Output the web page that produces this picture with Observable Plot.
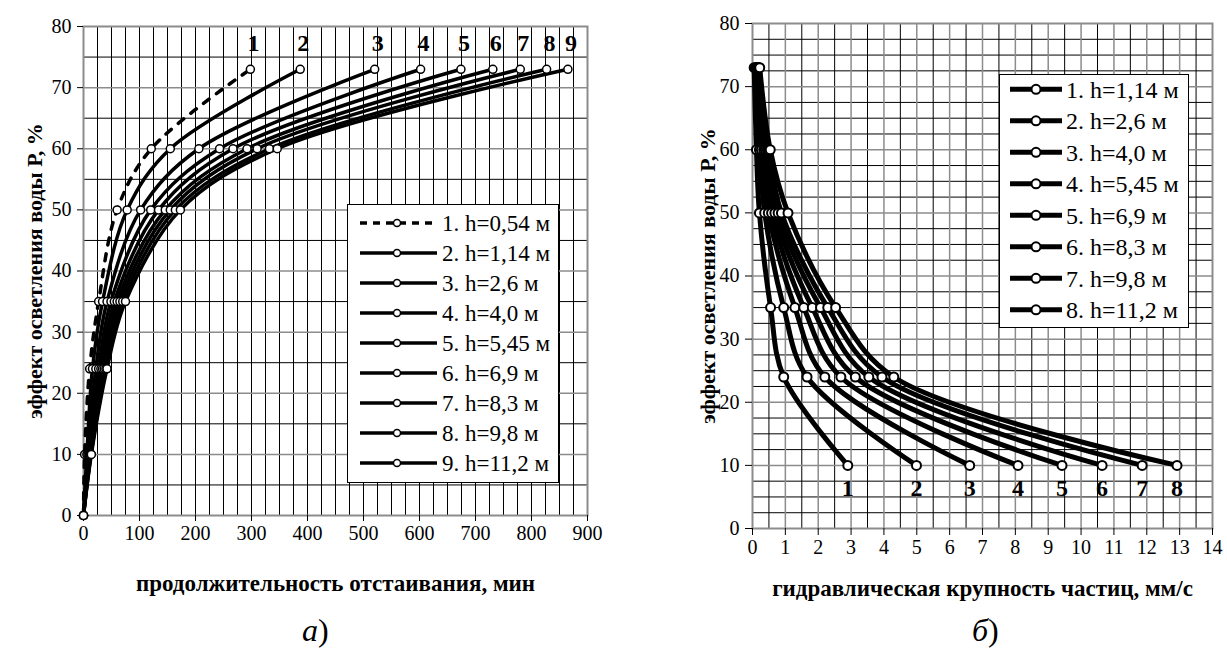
<!DOCTYPE html>
<html><head><meta charset="utf-8">
<script src="https://cdn.jsdelivr.net/npm/d3@7"></script>
<script src="https://cdn.jsdelivr.net/npm/@observablehq/plot@0.6"></script>
<style>
body{margin:0;background:#fff;}
#wrap{position:relative;width:1227px;height:663px;overflow:hidden;font-family:"Liberation Serif","Times New Roman",serif;}
.chart{position:absolute;top:0;}
.legend{position:absolute;background:#fff;border:1px solid #000;box-sizing:border-box;}
.cap{position:absolute;font-size:32px;font-family:"Liberation Serif",serif;line-height:1;}
</style></head><body><div id="wrap"></div>
<script>
// ---------- chart a) ----------
const levelsA = [0, 10, 24, 35, 50, 60, 73];
const seriesA = ["1. h=0,54 м","2. h=1,14 м","3. h=2,6 м","4. h=4,0 м","5. h=5,45 м","6. h=6,9 м","7. h=8,3 м","8. h=9,8 м","9. h=11,2 м"];
const labelsA = ["1","2","3","4","5","6","7","8","9"];
const timeA = [
  [0, 2, 11, 27, 60, 121, 298],
  [0, 6, 16, 34, 78, 155, 387],
  [0, 8, 22, 42, 102, 206, 520],
  [0, 10, 27, 49, 120, 243, 602],
  [0, 11, 31, 55, 134, 267, 674],
  [0, 12, 34, 60, 146, 292, 731],
  [0, 13, 37, 65, 155, 310, 780],
  [0, 13.5, 40, 70, 164, 332, 827],
  [0, 14, 42, 75, 173, 346, 865]
];
const xTicksA = [0,100,200,300,400,500,600,700,800,900];
const yTicks = [0,10,20,30,40,50,60,70,80];
const xTitleA = "продолжительность отстаивания, мин";
const yTitle = "эффект осветления воды Р, %";

// ---------- chart б) ----------
const levelsB = [73, 60, 50, 35, 24, 10];
const seriesB = ["1. h=1,14 м","2. h=2,6 м","3. h=4,0 м","4. h=5,45 м","5. h=6,9 м","6. h=8,3 м","7. h=9,8 м","8. h=11,2 м"];
const labelsB = ["1","2","3","4","5","6","7","8"];
const speedB = [
  [0.05, 0.12, 0.21, 0.55, 0.95, 2.90],
  [0.08, 0.21, 0.37, 0.95, 1.66, 4.99],
  [0.11, 0.27, 0.48, 1.29, 2.20, 6.61],
  [0.135, 0.34, 0.58, 1.56, 2.69, 8.08],
  [0.16, 0.39, 0.68, 1.82, 3.13, 9.42],
  [0.18, 0.45, 0.78, 2.07, 3.54, 10.64],
  [0.20, 0.49, 0.88, 2.29, 3.94, 11.86],
  [0.22, 0.54, 1.08, 2.53, 4.30, 12.92]
];
const xTicksB = [0,1,2,3,4,5,6,7,8,9,10,11,12,13,14];
const xTitleB = "гидравлическая крупность частиц, мм/с";
const captions = ["а", "б"];

const FONT = "Liberation Serif";
const wrap = document.getElementById("wrap");
const baseStyle = {fontFamily: FONT, fontSize: "20px", background: "transparent", overflow: "visible", color: "#000"};

const dataA = seriesA.flatMap((s, i) => levelsA.map((y, j) => ({s, i, x: timeA[i][j], y})));
const endA = seriesA.map((s, i) => ({label: labelsA[i], x: timeA[i][levelsA.length - 1], y: levelsA[levelsA.length - 1]}));

const chartA = Plot.plot({
  width: 620, height: 600,
  marginLeft: 83, marginRight: 33, marginTop: 26, marginBottom: 85,
  x: {domain: [0, 900], label: null},
  y: {domain: [0, 80], label: null},
  style: baseStyle,
  marks: [
    Plot.ruleX(d3.range(25, 900, 25), {stroke: "#000", strokeWidth: 1}),
    Plot.ruleY(d3.range(5, 80, 10), {stroke: "#000", strokeWidth: 1}),
    Plot.ruleY(d3.range(10, 80, 10), {stroke: "#8c8c8c", strokeWidth: 1.5}),
    Plot.frame({stroke: "#8c8c8c", strokeWidth: 2}),
    Plot.axisX(xTicksA, {tickSize: 6, tickPadding: 4, fontSize: 20, label: null}),
    Plot.axisY(yTicks, {tickSize: 6, tickPadding: 6, fontSize: 20, label: null}),
    Plot.line(dataA, {filter: d => d.i > 0, x: "x", y: "y", z: "s", curve: "catmull-rom", stroke: "#000", strokeWidth: 3.5}),
    Plot.line(dataA, {filter: d => d.i === 0, x: "x", y: "y", z: "s", curve: "catmull-rom", stroke: "#000", strokeWidth: 3.5, strokeDasharray: "7,9"}),
    Plot.dot(dataA, {x: "x", y: "y", r: 4, fill: "#fff", stroke: "#000", strokeWidth: 1.5}),
    Plot.text(endA, {x: "x", y: "y", text: "label", dy: -26, dx: 3, fontSize: 24, fontWeight: "bold"}),
    Plot.text([xTitleA], {frameAnchor: "bottom", lineAnchor: "middle", dy: 68, fontSize: 23, fontWeight: "bold"}),
    Plot.text([yTitle], {frameAnchor: "left", textAnchor: "middle", lineAnchor: "middle", rotate: -90, dx: -49, fontSize: 22, fontWeight: "bold"})
  ]
});
chartA.classList.add("chart");
chartA.style.left = "0px";
wrap.appendChild(chartA);

const dataB = seriesB.flatMap((s, i) => levelsB.map((y, j) => ({s, i, x: speedB[i][j], y})));
const endB = seriesB.map((s, i) => ({label: labelsB[i], x: speedB[i][levelsB.length - 1], y: levelsB[levelsB.length - 1]}));

const chartB = Plot.plot({
  width: 607, height: 600,
  marginLeft: 132, marginRight: 15, marginTop: 23, marginBottom: 72,
  x: {domain: [0, 14], label: null},
  y: {domain: [0, 80], label: null},
  style: baseStyle,
  marks: [
    Plot.ruleX(d3.range(0.5, 14, 1), {stroke: "#000", strokeWidth: 1}),
    Plot.ruleY(d3.range(2.5, 80, 2.5).filter(v => v % 10 !== 0), {stroke: "#000", strokeWidth: 1}),
    Plot.ruleX(d3.range(1, 14, 1), {stroke: "#8c8c8c", strokeWidth: 1.5}),
    Plot.ruleY(d3.range(10, 80, 10), {stroke: "#8c8c8c", strokeWidth: 1.5}),
    Plot.frame({stroke: "#8c8c8c", strokeWidth: 2}),
    Plot.axisX(xTicksB, {tickSize: 7, tickPadding: 4, fontSize: 20, label: null}),
    Plot.axisY(yTicks, {tickSize: 7, tickPadding: 6, fontSize: 20, label: null}),
    Plot.line(dataB, {x: "x", y: "y", z: "s", curve: "catmull-rom", stroke: "#000", strokeWidth: 5}),
    Plot.dot(dataB, {x: "x", y: "y", r: 4.5, fill: "#fff", stroke: "#000", strokeWidth: 2}),
    Plot.text(endB, {x: "x", y: "y", text: "label", dy: 23, fontSize: 24, fontWeight: "bold"}),
    Plot.text([xTitleB], {frameAnchor: "bottom", lineAnchor: "middle", dy: 60, fontSize: 23, fontWeight: "bold"}),
    Plot.text([yTitle], {frameAnchor: "left", textAnchor: "middle", lineAnchor: "middle", rotate: -90, dx: -45, fontSize: 22, fontWeight: "bold"})
  ]
});
chartB.classList.add("chart");
chartB.style.left = "620px";
wrap.appendChild(chartB);

// ---------- legends ----------
function legend(names, dashedFirst, box, rowTop, rowStep, lineX0, lineX1, dotX, textX, fontSize, lw, r, sw) {
  const div = document.createElement("div");
  div.className = "legend";
  Object.assign(div.style, {left: box[0] + "px", top: box[1] + "px", width: box[2] + "px", height: box[3] + "px"});
  const svg = d3.select(div).append("svg").attr("width", box[2]).attr("height", box[3])
    .style("position", "absolute").style("left", "-1px").style("top", "-1px").style("overflow", "visible");
  names.forEach((n, i) => {
    const y = rowTop + rowStep * i;
    svg.append("line").attr("x1", lineX0).attr("x2", lineX1).attr("y1", y).attr("y2", y)
      .attr("stroke", "#000").attr("stroke-width", lw)
      .attr("stroke-dasharray", dashedFirst && i === 0 ? "7,6" : null);
    svg.append("circle").attr("cx", dotX).attr("cy", y).attr("r", r)
      .attr("fill", "#fff").attr("stroke", "#000").attr("stroke-width", sw);
    svg.append("text").attr("x", textX).attr("y", y).attr("dy", "0.35em")
      .attr("font-family", FONT).attr("font-size", fontSize).text(n);
  });
  wrap.appendChild(div);
}
legend(seriesA, true, [347, 204, 212, 279], 19, 30, 13, 90, 50, 95, 23, 3.5, 3.5, 1.5);
legend(seriesB, false, [999, 74, 190, 254], 15.3, 31.5, 11, 63, 37, 67, 24, 5, 4.5, 2);

// ---------- captions ----------
[[captions[0], 302], [captions[1], 972]].forEach(([c, x]) => {
  const d = document.createElement("div");
  d.className = "cap";
  d.style.left = x + "px";
  d.style.top = "614px";
  d.innerHTML = "<i>" + c + "</i>)";
  wrap.appendChild(d);
});
</script></body></html>
